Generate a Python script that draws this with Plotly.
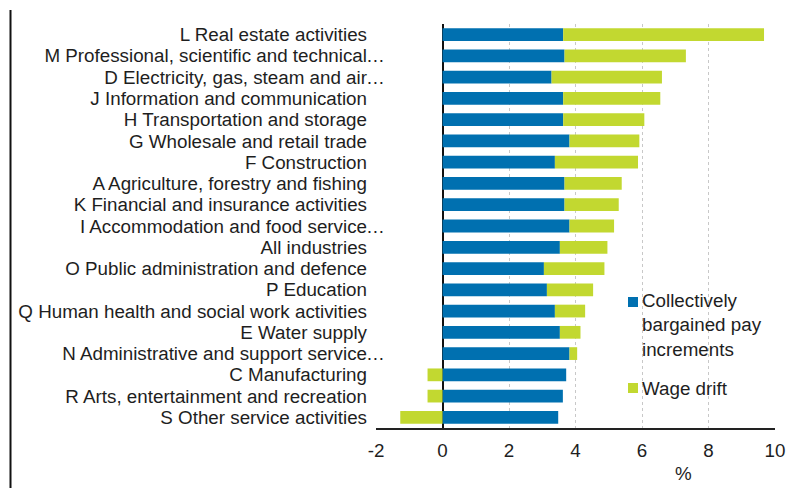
import plotly.graph_objects as go

categories = [
    "L Real estate activities",
    "M Professional, scientific and technical…",
    "D Electricity, gas, steam and air…",
    "J Information and communication",
    "H Transportation and storage",
    "G Wholesale and retail trade",
    "F Construction",
    "A Agriculture, forestry and fishing",
    "K Financial and insurance activities",
    "I Accommodation and food service…",
    "All industries",
    "O Public administration and defence",
    "P Education",
    "Q Human health and social work activities",
    "E Water supply",
    "N Administrative and support service…",
    "C Manufacturing",
    "R Arts, entertainment and recreation",
    "S Other service activities",
]
collective = [3.63, 3.67, 3.28, 3.63, 3.63, 3.82, 3.38, 3.67, 3.67, 3.82,
              3.53, 3.05, 3.14, 3.38, 3.53, 3.82, 3.72, 3.62, 3.48]
drift = [6.04, 3.65, 3.32, 2.92, 2.44, 2.10, 2.50, 1.72, 1.63, 1.34,
         1.43, 1.82, 1.39, 0.91, 0.62, 0.23, -0.45, -0.45, -1.27]
series_names = ["Collectively<br>bargained pay<br>increments", "Wage drift"]
x_ticks = [-2, 0, 2, 4, 6, 8, 10]

BLUE = "#0070b0"
GREEN = "#c2d830"
FONT = "Liberation Sans, Arial, sans-serif"
TXT = "#1e1e1e"
FS = 18.8

W, H = 787, 488
L, T = 376, 24
R = W - 775
B = H - 428
PW, PH = W - L - R, H - T - B


def px(x):
    return (x - L) / PW


def py(y):
    return (H - B - y) / PH


ticktext = [c.rstrip("…") for c in categories]

fig = go.Figure()
fig.add_trace(go.Bar(y=categories, x=collective, orientation="h",
                     marker=dict(color=BLUE, line=dict(width=0)),
                     name="Collectively bargained pay increments", showlegend=False))
fig.add_trace(go.Bar(y=categories, x=drift, orientation="h",
                     marker=dict(color=GREEN, line=dict(width=0)),
                     name="Wage drift", showlegend=False))

annotations = []
for c in categories:
    if c.endswith("…"):
        annotations.append(dict(x=px(365), xref="paper", y=c, yref="y", text="…",
                                showarrow=False, xanchor="left", yanchor="middle",
                                borderpad=0,
                                font=dict(size=FS, color=TXT, family=FONT)))

# legend (manual)
shapes = []
leg_items = [(BLUE, series_names[0], 302, 324.5), (GREEN, series_names[1], 388, 388)]
for color, name, sq_y, txt_y in leg_items:
    shapes.append(dict(type="rect", xref="paper", yref="paper",
                       x0=px(628), x1=px(638), y0=py(sq_y + 5), y1=py(sq_y - 5),
                       fillcolor=color, line=dict(width=0)))
    annotations.append(dict(x=px(640), xref="paper", y=py(txt_y), yref="paper",
                            text=name, showarrow=False, xanchor="left", yanchor="middle",
                            align="left", font=dict(size=FS, color=TXT, family=FONT)))

annotations.append(dict(x=px(683), xref="paper", y=py(473), yref="paper", text="%",
                        showarrow=False, xanchor="center", yanchor="middle",
                        font=dict(size=FS, color=TXT, family=FONT)))

# left border line of the figure
shapes.append(dict(type="line", xref="paper", yref="paper",
                   x0=px(10.5), x1=px(10.5), y0=py(488), y1=py(10),
                   line=dict(color="#111111", width=2)))

fig.update_layout(
    width=W, height=H,
    margin=dict(l=L, r=R, t=T, b=B, pad=0, autoexpand=False),
    paper_bgcolor="white", plot_bgcolor="white",
    barmode="relative", bargap=0.4,
    font=dict(family=FONT, size=FS, color=TXT),
    showlegend=False,
    annotations=annotations,
    shapes=shapes,
    xaxis=dict(range=[-2, 10], tickvals=x_ticks, ticktext=[str(v) for v in x_ticks],
               automargin=False,
               showgrid=True, gridcolor="#c8c8c8", griddash="dot", gridwidth=1,
               zeroline=True, zerolinecolor="#111111", zerolinewidth=2,
               showline=True, linecolor="#222222", linewidth=1.5,
               ticks="", ticklabelstandoff=5,
               tickfont=dict(size=FS, color=TXT, family=FONT)),
    yaxis=dict(categoryorder="array", categoryarray=categories, autorange="reversed",
               tickvals=categories, ticktext=ticktext, automargin=False,
               showgrid=False, zeroline=False, showline=False, ticks="",
               ticklabelstandoff=8,
               tickfont=dict(size=FS, color=TXT, family=FONT)),
)

fig.write_html(
    "out.html",
    config={"displayModeBar": False},
    post_script="document.body.style.margin='0';document.body.style.overflow='hidden';",
)
